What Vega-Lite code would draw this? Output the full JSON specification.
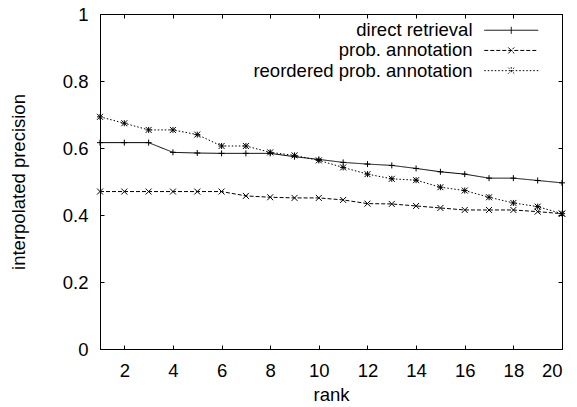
{
  "$schema": "https://vega.github.io/schema/vega-lite/v6.json",
  "width": 462,
  "height": 335,
  "autosize": "none",
  "padding": {"left": 100, "top": 14, "right": 15, "bottom": 58},
  "background": "white",
  "config": {
    "view": {"stroke": "black", "strokeWidth": 1},
    "font": "Liberation Sans",
    "axis": {
      "labelFont": "Liberation Sans",
      "titleFont": "Liberation Sans",
      "labelFontSize": 18.5,
      "titleFontSize": 18.5,
      "titleFontWeight": "normal",
      "labelColor": "black",
      "titleColor": "black",
      "tickColor": "black",
      "domainColor": "black",
      "grid": false,
      "tickSize": -4,
      "labelPadding": 16
    },
    "legend": {
      "labelFont": "Liberation Sans",
      "labelFontSize": 18.5,
      "labelColor": "black"
    }
  },
  "data": {
    "values": [
      {"r": 1, "s": "direct retrieval", "p": 0.616},
      {"r": 2, "s": "direct retrieval", "p": 0.616},
      {"r": 3, "s": "direct retrieval", "p": 0.616},
      {"r": 4, "s": "direct retrieval", "p": 0.587},
      {"r": 5, "s": "direct retrieval", "p": 0.585},
      {"r": 6, "s": "direct retrieval", "p": 0.584},
      {"r": 7, "s": "direct retrieval", "p": 0.584},
      {"r": 8, "s": "direct retrieval", "p": 0.584},
      {"r": 9, "s": "direct retrieval", "p": 0.574},
      {"r": 10, "s": "direct retrieval", "p": 0.566},
      {"r": 11, "s": "direct retrieval", "p": 0.557},
      {"r": 12, "s": "direct retrieval", "p": 0.552},
      {"r": 13, "s": "direct retrieval", "p": 0.548},
      {"r": 14, "s": "direct retrieval", "p": 0.539},
      {"r": 15, "s": "direct retrieval", "p": 0.529},
      {"r": 16, "s": "direct retrieval", "p": 0.522},
      {"r": 17, "s": "direct retrieval", "p": 0.510},
      {"r": 18, "s": "direct retrieval", "p": 0.510},
      {"r": 19, "s": "direct retrieval", "p": 0.503},
      {"r": 20, "s": "direct retrieval", "p": 0.496},
      {"r": 1, "s": "prob. annotation", "p": 0.470},
      {"r": 2, "s": "prob. annotation", "p": 0.470},
      {"r": 3, "s": "prob. annotation", "p": 0.470},
      {"r": 4, "s": "prob. annotation", "p": 0.470},
      {"r": 5, "s": "prob. annotation", "p": 0.470},
      {"r": 6, "s": "prob. annotation", "p": 0.470},
      {"r": 7, "s": "prob. annotation", "p": 0.457},
      {"r": 8, "s": "prob. annotation", "p": 0.453},
      {"r": 9, "s": "prob. annotation", "p": 0.451},
      {"r": 10, "s": "prob. annotation", "p": 0.451},
      {"r": 11, "s": "prob. annotation", "p": 0.445},
      {"r": 12, "s": "prob. annotation", "p": 0.434},
      {"r": 13, "s": "prob. annotation", "p": 0.433},
      {"r": 14, "s": "prob. annotation", "p": 0.427},
      {"r": 15, "s": "prob. annotation", "p": 0.421},
      {"r": 16, "s": "prob. annotation", "p": 0.415},
      {"r": 17, "s": "prob. annotation", "p": 0.415},
      {"r": 18, "s": "prob. annotation", "p": 0.415},
      {"r": 19, "s": "prob. annotation", "p": 0.410},
      {"r": 20, "s": "prob. annotation", "p": 0.404},
      {"r": 1, "s": "reordered prob. annotation", "p": 0.693},
      {"r": 2, "s": "reordered prob. annotation", "p": 0.674},
      {"r": 3, "s": "reordered prob. annotation", "p": 0.654},
      {"r": 4, "s": "reordered prob. annotation", "p": 0.654},
      {"r": 5, "s": "reordered prob. annotation", "p": 0.640},
      {"r": 6, "s": "reordered prob. annotation", "p": 0.606},
      {"r": 7, "s": "reordered prob. annotation", "p": 0.606},
      {"r": 8, "s": "reordered prob. annotation", "p": 0.587},
      {"r": 9, "s": "reordered prob. annotation", "p": 0.578},
      {"r": 10, "s": "reordered prob. annotation", "p": 0.563},
      {"r": 11, "s": "reordered prob. annotation", "p": 0.542},
      {"r": 12, "s": "reordered prob. annotation", "p": 0.522},
      {"r": 13, "s": "reordered prob. annotation", "p": 0.508},
      {"r": 14, "s": "reordered prob. annotation", "p": 0.504},
      {"r": 15, "s": "reordered prob. annotation", "p": 0.483},
      {"r": 16, "s": "reordered prob. annotation", "p": 0.473},
      {"r": 17, "s": "reordered prob. annotation", "p": 0.453},
      {"r": 18, "s": "reordered prob. annotation", "p": 0.436},
      {"r": 19, "s": "reordered prob. annotation", "p": 0.425},
      {"r": 20, "s": "reordered prob. annotation", "p": 0.404}
    ]
  },
  "layer": [
    {
      "mark": {"type": "line", "color": "black", "strokeWidth": 1},
      "encoding": {
        "x": {
          "field": "r", "type": "quantitative",
          "scale": {"domain": [1, 20], "nice": false, "zero": false},
          "axis": {"title": "rank", "values": [2, 4, 6, 8, 10, 12, 14, 16, 18, 20], "format": "d", "titlePadding": 6}
        },
        "y": {
          "field": "p", "type": "quantitative",
          "scale": {"domain": [0, 1], "nice": false},
          "axis": {"title": "interpolated precision", "values": [0, 0.2, 0.4, 0.6, 0.8, 1], "format": "~g", "titlePadding": 34}
        },
        "strokeDash": {
          "field": "s", "type": "nominal",
          "scale": {
            "domain": ["direct retrieval", "prob. annotation", "reordered prob. annotation"],
            "range": [[1, 0], [4, 2], [1.5, 2]]
          },
          "legend": {
            "title": null,
            "orient": "none",
            "legendX": 402,
            "legendY": 7,
            "padding": 0,
            "rowPadding": 1.2,
            "symbolSize": 4,
            "symbolStrokeWidth": 1,
            "symbolStrokeColor": "black",
            "labelAlign": "right",
            "labelBaseline": "middle",
            "labelOffset": -48,
            "labelLimit": 400,
            "encode": {
              "symbols": {
                "update": {
                  "shape": {"signal": "datum.value === 'direct retrieval' ? 'M-27,0L27,0M0,-3.5L0,3.5' : datum.value === 'prob. annotation' ? 'M-27,0L27,0M-3,-3L3,3M-3,3L3,-3' : 'M-27,0L27,0M0,-3.5L0,3.5M-3,-3L3,3M-3,3L3,-3'"},
                  "fill": {"value": "transparent"},
                  "stroke": {"value": "black"}
                }
              }
            }
          }
        }
      }
    },
    {
      "transform": [{"filter": "datum.s === 'direct retrieval'"}],
      "mark": {"type": "point", "shape": "M-1,0L1,0M0,-1L0,1", "filled": false, "stroke": "black", "strokeWidth": 1, "size": 36, "opacity": 1},
      "encoding": {
        "x": {
          "field": "r", "type": "quantitative",
          "axis": {"orient": "top", "title": null, "labels": false, "values": [2, 4, 6, 8, 10, 12, 14, 16, 18, 20]}
        },
        "y": {
          "field": "p", "type": "quantitative",
          "axis": {"orient": "right", "title": null, "labels": false, "values": [0, 0.2, 0.4, 0.6, 0.8, 1]}
        }
      }
    },
    {
      "transform": [{"filter": "datum.s === 'prob. annotation'"}],
      "mark": {"type": "point", "shape": "M-1,-1L1,1M-1,1L1,-1", "filled": false, "stroke": "black", "strokeWidth": 1, "size": 36, "opacity": 1},
      "encoding": {
        "x": {"field": "r", "type": "quantitative", "axis": null},
        "y": {"field": "p", "type": "quantitative", "axis": null}
      }
    },
    {
      "transform": [{"filter": "datum.s === 'reordered prob. annotation'"}],
      "mark": {"type": "point", "shape": "M-1,0L1,0M0,-1L0,1M-1,-1L1,1M-1,1L1,-1", "filled": false, "stroke": "black", "strokeWidth": 1, "size": 36, "opacity": 1},
      "encoding": {
        "x": {"field": "r", "type": "quantitative", "axis": null},
        "y": {"field": "p", "type": "quantitative", "axis": null}
      }
    }
  ],
  "resolve": {"axis": {"x": "independent", "y": "independent"}}
}
